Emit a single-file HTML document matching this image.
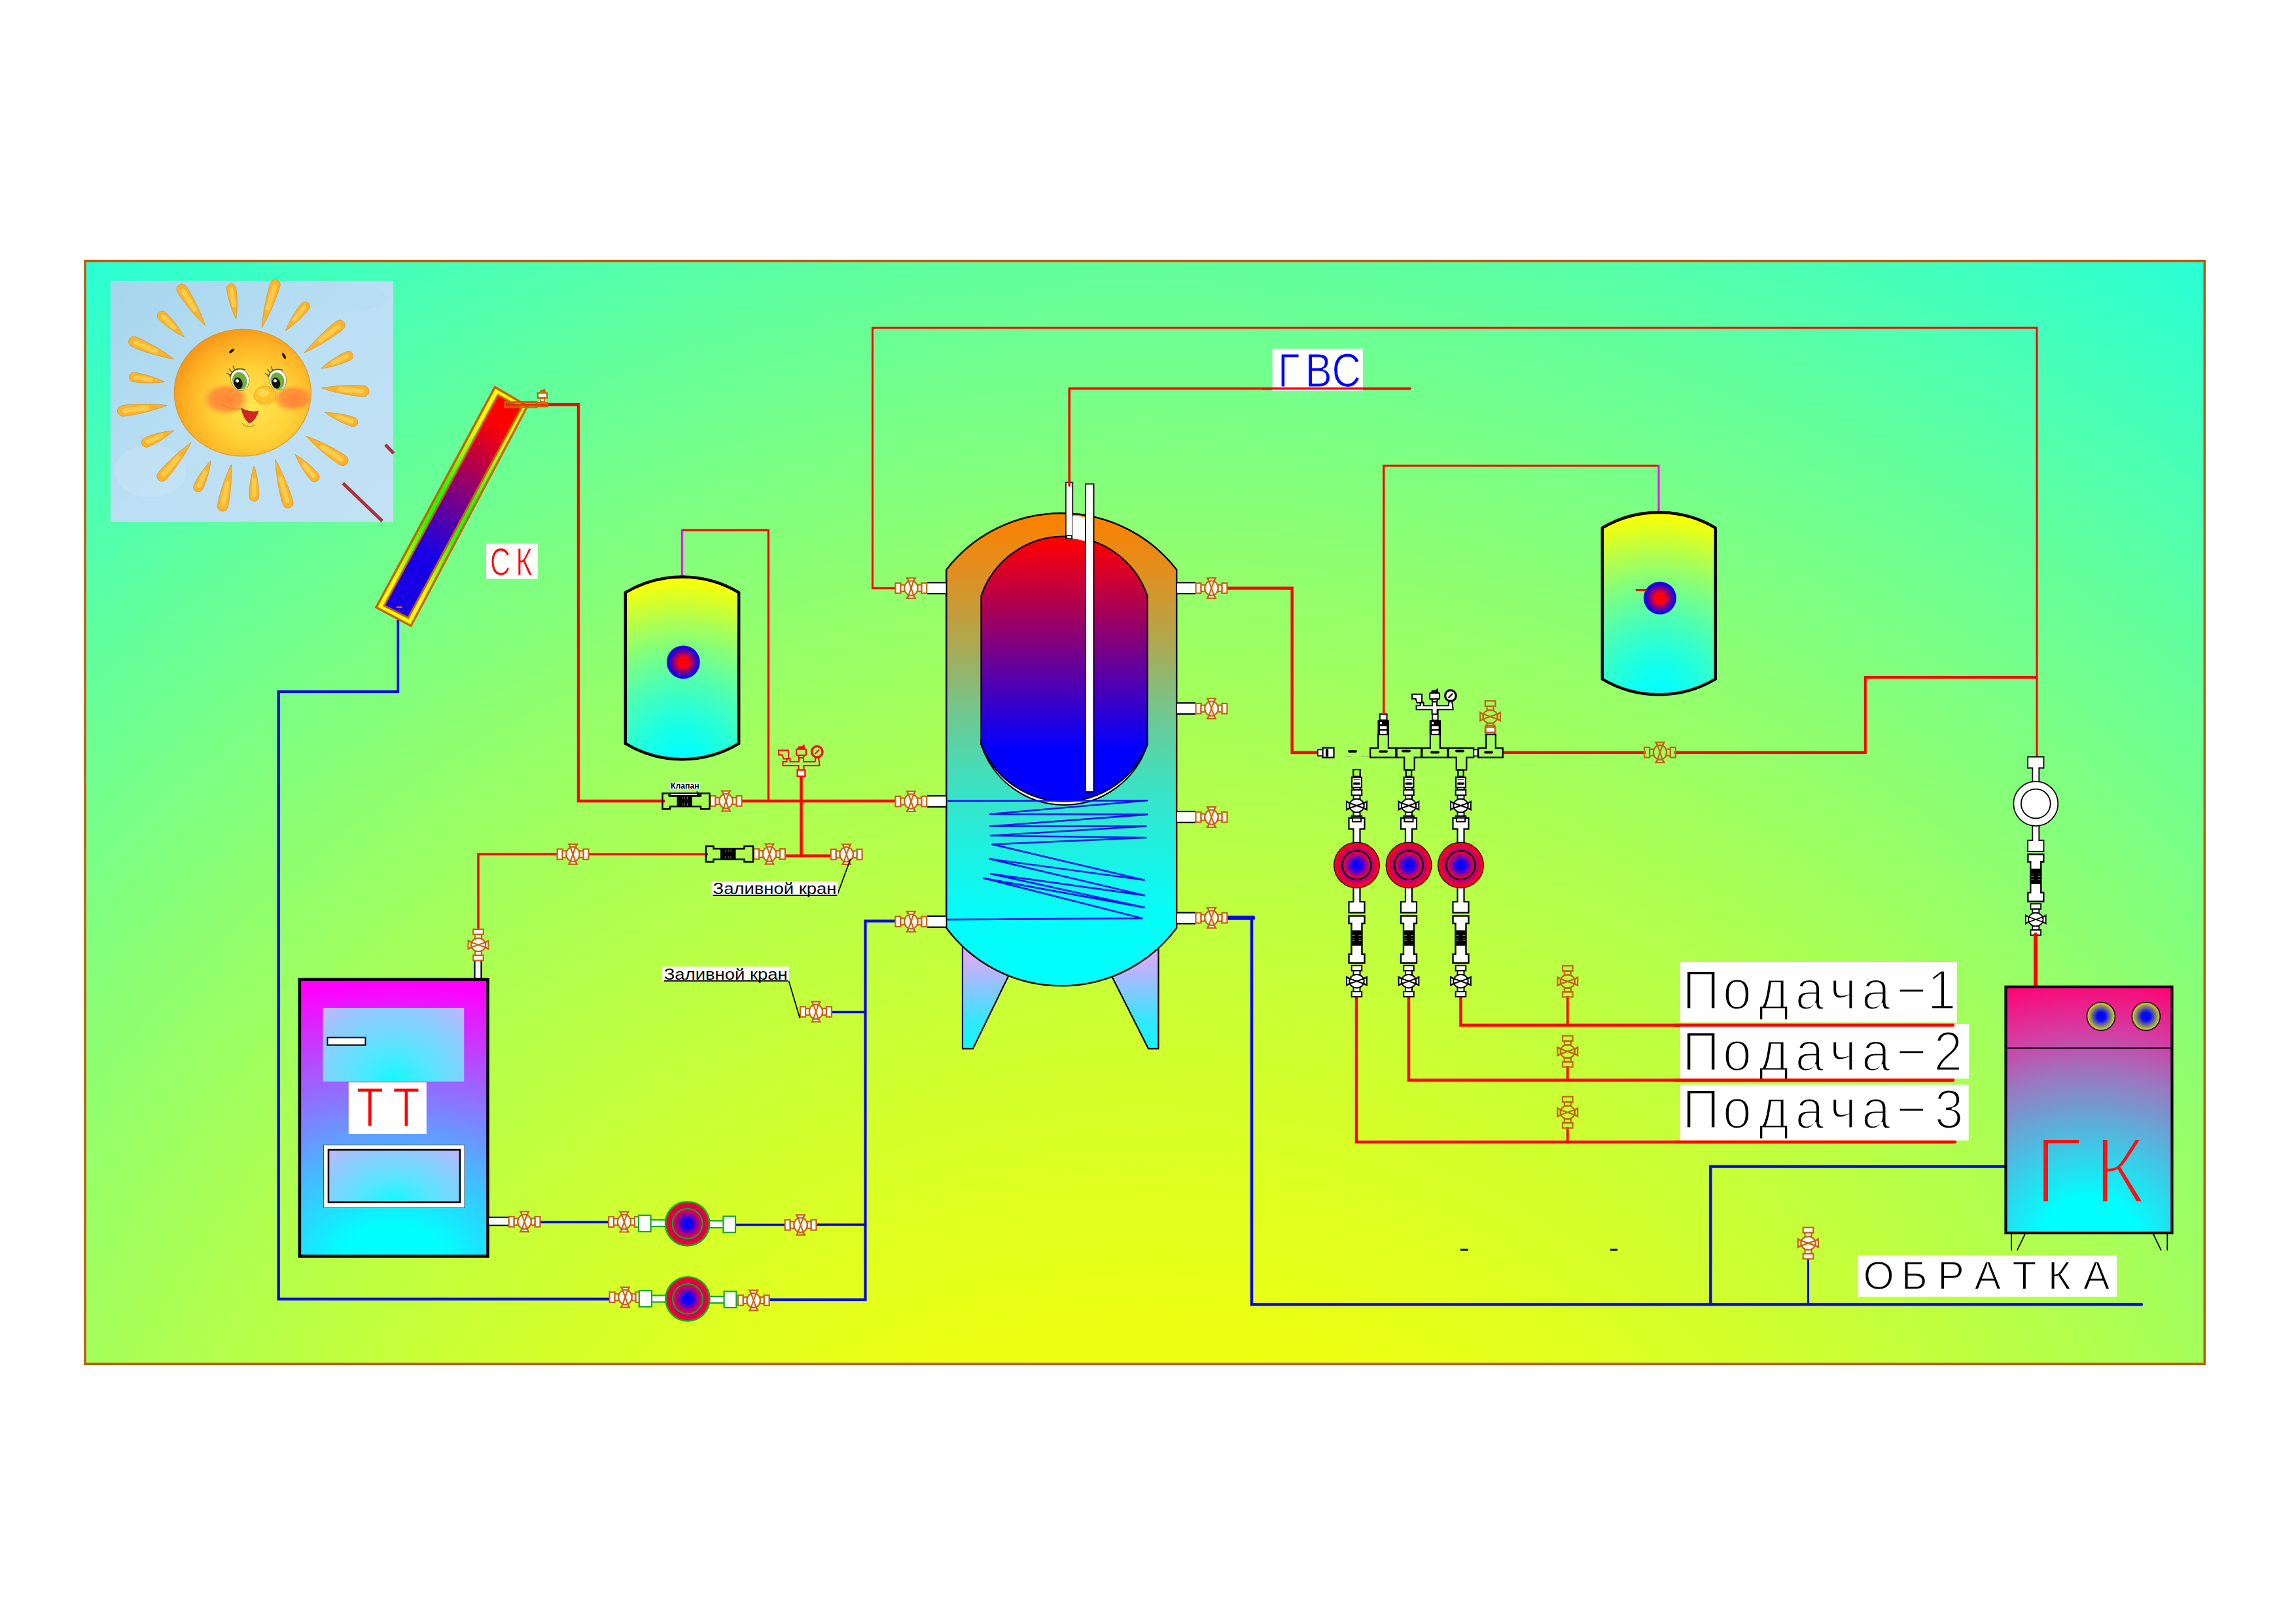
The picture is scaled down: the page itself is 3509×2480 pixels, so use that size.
<!DOCTYPE html>
<html lang="ru"><head><meta charset="utf-8"><title>Схема отопления</title>
<style>html,body{margin:0;padding:0;background:#fff}svg{display:block}</style></head>
<body>
<svg width="3509" height="2480" viewBox="0 0 3509 2480">
<defs>
<radialGradient id="bg" gradientUnits="userSpaceOnUse" cx="1750" cy="2859" r="3050"><stop offset="0.2295" stop-color="rgb(243,255,12)"/><stop offset="0.2623" stop-color="rgb(238,255,17)"/><stop offset="0.2951" stop-color="rgb(232,255,23)"/><stop offset="0.3279" stop-color="rgb(226,255,29)"/><stop offset="0.3607" stop-color="rgb(219,255,36)"/><stop offset="0.3934" stop-color="rgb(212,255,43)"/><stop offset="0.4262" stop-color="rgb(205,255,50)"/><stop offset="0.4590" stop-color="rgb(197,255,58)"/><stop offset="0.4918" stop-color="rgb(189,255,66)"/><stop offset="0.5246" stop-color="rgb(181,255,74)"/><stop offset="0.5574" stop-color="rgb(173,255,82)"/><stop offset="0.5902" stop-color="rgb(164,255,91)"/><stop offset="0.6230" stop-color="rgb(154,255,101)"/><stop offset="0.6557" stop-color="rgb(145,255,110)"/><stop offset="0.6885" stop-color="rgb(135,255,120)"/><stop offset="0.7213" stop-color="rgb(125,255,130)"/><stop offset="0.7541" stop-color="rgb(114,255,141)"/><stop offset="0.7869" stop-color="rgb(104,255,151)"/><stop offset="0.8197" stop-color="rgb(93,255,162)"/><stop offset="0.8525" stop-color="rgb(81,255,174)"/><stop offset="0.8852" stop-color="rgb(70,255,185)"/><stop offset="0.9180" stop-color="rgb(58,255,197)"/><stop offset="0.9508" stop-color="rgb(46,255,209)"/><stop offset="0.9836" stop-color="rgb(33,255,222)"/></radialGradient>
<linearGradient id="sky" x1="0" y1="0" x2="1" y2="1"><stop offset="0" stop-color="#a5d6ee"/><stop offset="0.5" stop-color="#bbdff4"/><stop offset="1" stop-color="#c3e2f5"/></linearGradient>
<radialGradient id="sun" cx="0.58" cy="0.6" r="0.64"><stop offset="0" stop-color="#ffe450"/><stop offset="0.45" stop-color="#ffd238"/><stop offset="0.75" stop-color="#ffb324"/><stop offset="1" stop-color="#f59316"/></radialGradient>
<linearGradient id="ray" x1="0" y1="0" x2="1" y2="0"><stop offset="0" stop-color="#f6a21c"/><stop offset="0.5" stop-color="#ffd045"/><stop offset="1" stop-color="#f3a01a"/></linearGradient>
<radialGradient id="cheek"><stop offset="0" stop-color="#ff8434" stop-opacity="1"/><stop offset="0.65" stop-color="#ff8e3a" stop-opacity="0.9"/><stop offset="1" stop-color="#ffa030" stop-opacity="0"/></radialGradient>
<linearGradient id="colO" gradientUnits="userSpaceOnUse" x1="781" y1="607" x2="602" y2="941"><stop offset="0" stop-color="#ffff00"/><stop offset="0.12" stop-color="#ffff00"/><stop offset="0.45" stop-color="#20ff00"/><stop offset="0.6" stop-color="#20ff00"/><stop offset="0.9" stop-color="#ffff00"/><stop offset="1" stop-color="#ffff00"/></linearGradient>
<linearGradient id="colI" gradientUnits="userSpaceOnUse" x1="778" y1="614" x2="606" y2="935"><stop offset="0" stop-color="#ff0000"/><stop offset="0.1" stop-color="#ff0000"/><stop offset="0.72" stop-color="#1800e6"/><stop offset="1" stop-color="#1800e6"/></linearGradient>
<radialGradient id="yc" cx="0.5" cy="1" r="1" gradientTransform="translate(0.5,1) scale(1.61,1) translate(-0.5,-1)"><stop offset="0.000" stop-color="rgb(0,255,255)"/><stop offset="0.125" stop-color="rgb(14,255,241)"/><stop offset="0.250" stop-color="rgb(37,255,218)"/><stop offset="0.375" stop-color="rgb(65,255,190)"/><stop offset="0.500" stop-color="rgb(97,255,158)"/><stop offset="0.625" stop-color="rgb(132,255,123)"/><stop offset="0.750" stop-color="rgb(170,255,85)"/><stop offset="0.875" stop-color="rgb(212,255,43)"/><stop offset="1.000" stop-color="rgb(255,255,0)"/></radialGradient>
<radialGradient id="rb"><stop offset="0" stop-color="#ff0000"/><stop offset="0.3" stop-color="#ff0010"/><stop offset="0.85" stop-color="#2000e0"/><stop offset="1" stop-color="#1010e0"/></radialGradient>
<linearGradient id="tankO" gradientUnits="userSpaceOnUse" x1="0" y1="783" x2="0" y2="1507"><stop offset="0" stop-color="rgb(255,128,0)"/><stop offset="0.127" stop-color="rgb(224,143,31)"/><stop offset="0.271" stop-color="rgb(176,167,79)"/><stop offset="0.416" stop-color="rgb(115,198,140)"/><stop offset="0.561" stop-color="rgb(65,223,190)"/><stop offset="0.706" stop-color="rgb(31,240,224)"/><stop offset="0.849" stop-color="rgb(5,252,250)"/><stop offset="1" stop-color="rgb(0,255,255)"/></linearGradient>
<linearGradient id="tankI" gradientUnits="userSpaceOnUse" x1="0" y1="819" x2="0" y2="1231"><stop offset="0" stop-color="#ff0000"/><stop offset="0.01" stop-color="#ff0000"/><stop offset="0.79" stop-color="#0000ff"/><stop offset="1" stop-color="#0000ff"/></linearGradient>
<linearGradient id="leg" x1="0" y1="0" x2="0" y2="1"><stop offset="0" stop-color="#f0a8f0"/><stop offset="0.3" stop-color="#b0b8ff"/><stop offset="0.75" stop-color="#30e8ff"/><stop offset="1" stop-color="#10f8ff"/></linearGradient>
<radialGradient id="tt" gradientUnits="userSpaceOnUse" cx="601" cy="1930" r="440" gradientTransform="translate(601,1930) scale(1.4,1) translate(-601,-1930)"><stop offset="0" stop-color="#00ffff"/><stop offset="0.13" stop-color="#00ffff"/><stop offset="0.97" stop-color="#ff00ff"/><stop offset="1" stop-color="#ff00ff"/></radialGradient>
<radialGradient id="ttp" cx="0.5" cy="1" r="1.4" gradientTransform="translate(0.5,1) scale(0.6,1) translate(-0.5,-1)"><stop offset="0" stop-color="#14f8ff"/><stop offset="0.35" stop-color="#5ce4ff"/><stop offset="0.72" stop-color="#96c8ff"/><stop offset="1" stop-color="#d2aef8"/></radialGradient>
<radialGradient id="gk" gradientUnits="userSpaceOnUse" cx="3192" cy="1890" r="400" gradientTransform="translate(3192,1890) scale(1.2,1) translate(-3192,-1890)"><stop offset="0" stop-color="#00ffff"/><stop offset="0.15" stop-color="#00ffff"/><stop offset="0.62" stop-color="#9a78c0"/><stop offset="0.8" stop-color="#d838a0"/><stop offset="1" stop-color="#ff0070"/></radialGradient>
<radialGradient id="knob"><stop offset="0" stop-color="#0000ff"/><stop offset="0.3" stop-color="#0808f8"/><stop offset="0.8" stop-color="#a0a050"/><stop offset="1" stop-color="#f0e010"/></radialGradient>
<radialGradient id="pumpO"><stop offset="0" stop-color="#7000b0"/><stop offset="0.58" stop-color="#8000a8"/><stop offset="0.78" stop-color="#d40054"/><stop offset="0.95" stop-color="#ff0018"/><stop offset="1" stop-color="#ff0018"/></radialGradient>
<radialGradient id="pumpI"><stop offset="0" stop-color="#0000ff"/><stop offset="0.32" stop-color="#1400f4"/><stop offset="0.68" stop-color="#a00090"/><stop offset="0.95" stop-color="#f20030"/><stop offset="1" stop-color="#f20030"/></radialGradient>
<radialGradient id="pump"><stop offset="0" stop-color="#0000ff"/><stop offset="0.18" stop-color="#1000f8"/><stop offset="0.55" stop-color="#b000a0"/><stop offset="0.75" stop-color="#f00040"/><stop offset="1" stop-color="#ff0020"/></radialGradient>
<clipPath id="cp1"><rect x="2568" y="1470" width="423" height="92.4"/></clipPath>
<clipPath id="cp2"><rect x="2568" y="1569" width="441" height="79.2"/></clipPath>
<clipPath id="cp3"><rect x="2568" y="1657.4" width="441" height="85.2"/></clipPath>
<clipPath id="disc"><ellipse cx="370.8" cy="600" rx="104" ry="96.5"/></clipPath>
<radialGradient id="gk2" gradientUnits="userSpaceOnUse" cx="3192" cy="1890" r="400" gradientTransform="scale(1.06383,1) translate(3192,1890) scale(1.2,1) translate(-3192,-1890)"><stop offset="0" stop-color="#00ffff"/><stop offset="0.15" stop-color="#00ffff"/><stop offset="0.62" stop-color="#9a78c0"/><stop offset="0.8" stop-color="#d838a0"/><stop offset="1" stop-color="#ff0070"/></radialGradient>
</defs>
<rect x="0" y="0" width="3509" height="2480" fill="#fff"/>
<rect x="130" y="398.7" width="3239.3" height="1685.5" fill="url(#bg)" stroke="#b85c0c" stroke-width="3.6"/>
<g>
<rect x="169" y="429" width="432" height="368.3" fill="url(#sky)"/>
<ellipse cx="520" cy="455" rx="70" ry="22" fill="#b4dcf0" opacity="0.6"/>
<ellipse cx="230" cy="720" rx="55" ry="40" fill="#c6e4f6" opacity="0.6"/>
<path d="M313.8,498.1 C296.2,481.5 277.8,457.5 271.1,445.9 A7.9,7.9 0 0 1 284.4,437.4 C292.2,448.3 306.2,475.1 313.8,498.1 Z" fill="#fab42a" stroke="#d89a30" stroke-width="0.9"/>
<path d="M279.6,444.5 L297.6,472.7" stroke="#ffd458" stroke-width="7.1" stroke-linecap="round" opacity="0.75"/>
<path d="M360.7,487.3 C352.9,471.7 347.4,451.0 346.5,441.5 A7.0,7.0 0 0 1 360.4,439.4 C362.4,448.6 363.4,470.1 360.7,487.3 Z" fill="#fab42a" stroke="#d89a30" stroke-width="0.9"/>
<path d="M353.8,442.8 L357.4,466.2" stroke="#ffd458" stroke-width="6.3" stroke-linecap="round" opacity="0.75"/>
<path d="M400.3,500.5 C402.0,475.7 408.8,445.2 413.5,432.2 A7.6,7.6 0 0 1 428.0,436.7 C424.5,450.1 412.9,479.1 400.3,500.5 Z" fill="#fab42a" stroke="#d89a30" stroke-width="0.9"/>
<path d="M419.7,437.7 L409.5,470.8" stroke="#ffd458" stroke-width="6.9" stroke-linecap="round" opacity="0.75"/>
<path d="M436.4,505.3 C442.8,489.0 454.5,470.7 460.9,463.6 A7.0,7.0 0 0 1 471.9,472.5 C466.3,480.3 451.0,495.6 436.4,505.3 Z" fill="#fab42a" stroke="#d89a30" stroke-width="0.9"/>
<path d="M464.9,469.9 L449.9,488.6" stroke="#ffd458" stroke-width="6.3" stroke-linecap="round" opacity="0.75"/>
<path d="M465.2,539.0 C480.5,519.6 503.2,498.6 514.4,490.7 A7.9,7.9 0 0 1 524.2,503.2 C513.7,512.1 487.8,528.9 465.2,539.0 Z" fill="#fab42a" stroke="#d89a30" stroke-width="0.9"/>
<path d="M516.6,499.0 L489.6,520.0" stroke="#ffd458" stroke-width="7.1" stroke-linecap="round" opacity="0.75"/>
<path d="M490.5,563.0 C503.0,551.5 520.9,540.7 529.6,537.4 A7.0,7.0 0 0 1 535.4,550.2 C527.3,554.5 507.4,561.1 490.5,563.0 Z" fill="#fab42a" stroke="#d89a30" stroke-width="0.9"/>
<path d="M530.4,544.7 L509.4,554.3" stroke="#ffd458" stroke-width="6.3" stroke-linecap="round" opacity="0.75"/>
<path d="M491.7,593.0 C514.8,588.6 544.2,588.0 557.2,589.7 A8.2,8.2 0 0 1 555.9,606.0 C542.9,605.7 513.9,600.9 491.7,593.0 Z" fill="#fab42a" stroke="#d89a30" stroke-width="0.9"/>
<path d="M553.3,597.6 L520.9,595.2" stroke="#ffd458" stroke-width="7.4" stroke-linecap="round" opacity="0.75"/>
<path d="M496.5,630.3 C513.3,630.3 533.5,634.6 542.0,638.0 A7.0,7.0 0 0 1 537.5,651.4 C528.7,649.0 509.9,640.3 496.5,630.3 Z" fill="#fab42a" stroke="#d89a30" stroke-width="0.9"/>
<path d="M537.6,644.0 L515.9,636.8" stroke="#ffd458" stroke-width="6.3" stroke-linecap="round" opacity="0.75"/>
<path d="M467.6,666.3 C490.8,674.2 517.7,688.7 528.6,696.7 A8.2,8.2 0 0 1 519.6,710.4 C507.9,703.5 484.0,684.5 467.6,666.3 Z" fill="#fab42a" stroke="#d89a30" stroke-width="0.9"/>
<path d="M521.3,701.7 L493.0,683.1" stroke="#ffd458" stroke-width="7.4" stroke-linecap="round" opacity="0.75"/>
<path d="M450.8,694.0 C465.5,702.6 480.8,716.7 486.4,724.0 A7.3,7.3 0 0 1 475.3,733.6 C468.8,727.0 457.2,709.8 450.8,694.0 Z" fill="#fab42a" stroke="#d89a30" stroke-width="0.9"/>
<path d="M479.3,727.1 L464.3,709.7" stroke="#ffd458" stroke-width="6.6" stroke-linecap="round" opacity="0.75"/>
<path d="M420.8,702.4 C433.2,723.9 444.4,752.9 447.6,766.3 A7.9,7.9 0 0 1 432.4,770.7 C427.9,757.7 421.8,727.2 420.8,702.4 Z" fill="#fab42a" stroke="#d89a30" stroke-width="0.9"/>
<path d="M439.0,765.2 L429.4,732.1" stroke="#ffd458" stroke-width="7.1" stroke-linecap="round" opacity="0.75"/>
<path d="M388.3,712.0 C393.8,728.4 396.2,749.5 395.6,758.9 A7.3,7.3 0 0 1 381.0,758.9 C380.4,749.5 382.8,728.4 388.3,712.0 Z" fill="#fab42a" stroke="#d89a30" stroke-width="0.9"/>
<path d="M388.3,756.5 L388.3,733.1" stroke="#ffd458" stroke-width="6.6" stroke-linecap="round" opacity="0.75"/>
<path d="M353.5,709.6 C354.7,733.1 351.3,762.3 348.0,774.9 A7.9,7.9 0 0 1 332.5,771.7 C334.5,758.8 343.0,730.7 353.5,709.6 Z" fill="#fab42a" stroke="#d89a30" stroke-width="0.9"/>
<path d="M340.9,770.1 L347.5,738.3" stroke="#ffd458" stroke-width="7.1" stroke-linecap="round" opacity="0.75"/>
<path d="M322.2,703.6 C320.5,720.2 314.0,739.6 309.6,747.6 A7.3,7.3 0 0 1 296.4,741.3 C299.7,732.9 310.5,715.6 322.2,703.6 Z" fill="#fab42a" stroke="#d89a30" stroke-width="0.9"/>
<path d="M304.0,742.4 L313.6,722.0" stroke="#ffd458" stroke-width="6.6" stroke-linecap="round" opacity="0.75"/>
<path d="M292.2,676.0 C281.1,697.9 263.1,722.9 253.7,732.8 A7.9,7.9 0 0 1 241.7,722.5 C250.1,711.7 272.1,690.2 292.2,676.0 Z" fill="#fab42a" stroke="#d89a30" stroke-width="0.9"/>
<path d="M249.9,725.0 L272.2,699.2" stroke="#ffd458" stroke-width="7.1" stroke-linecap="round" opacity="0.75"/>
<path d="M265.7,657.9 C253.2,669.3 235.2,679.6 226.6,682.7 A7.3,7.3 0 0 1 220.8,669.2 C229.0,665.1 248.9,659.2 265.7,657.9 Z" fill="#fab42a" stroke="#d89a30" stroke-width="0.9"/>
<path d="M225.8,675.1 L246.8,666.0" stroke="#ffd458" stroke-width="6.6" stroke-linecap="round" opacity="0.75"/>
<path d="M254.9,619.5 C232.1,628.5 202.2,635.0 188.7,636.0 A8.2,8.2 0 0 1 186.6,619.7 C200.0,617.4 230.6,616.3 254.9,619.5 Z" fill="#fab42a" stroke="#d89a30" stroke-width="0.9"/>
<path d="M191.0,627.5 L224.6,623.3" stroke="#ffd458" stroke-width="7.4" stroke-linecap="round" opacity="0.75"/>
<path d="M251.3,583.4 C234.1,586.1 212.7,585.2 203.4,583.2 A7.0,7.0 0 0 1 205.5,569.3 C215.0,570.1 235.7,575.7 251.3,583.4 Z" fill="#fab42a" stroke="#d89a30" stroke-width="0.9"/>
<path d="M206.8,576.6 L230.2,580.2" stroke="#ffd458" stroke-width="6.3" stroke-linecap="round" opacity="0.75"/>
<path d="M265.7,548.6 C241.9,544.8 213.3,535.3 201.3,529.4 A7.9,7.9 0 0 1 207.6,514.9 C220.1,519.6 246.6,533.9 265.7,548.6 Z" fill="#fab42a" stroke="#d89a30" stroke-width="0.9"/>
<path d="M207.5,523.5 L238.2,536.7" stroke="#ffd458" stroke-width="7.1" stroke-linecap="round" opacity="0.75"/>
<path d="M281.4,514.9 C265.8,507.5 249.0,494.7 242.6,487.8 A7.3,7.3 0 0 1 252.8,477.2 C259.9,483.3 273.4,499.6 281.4,514.9 Z" fill="#fab42a" stroke="#d89a30" stroke-width="0.9"/>
<path d="M249.4,484.1 L266.2,500.3" stroke="#ffd458" stroke-width="6.6" stroke-linecap="round" opacity="0.75"/>
<ellipse cx="370.8" cy="600" rx="104.5" ry="97" fill="url(#sun)" stroke="#d9962a" stroke-width="1.2"/>
<g clip-path="url(#disc)">
<ellipse cx="345.1" cy="609.9" rx="36" ry="25" fill="url(#cheek)"/>
<ellipse cx="448.4" cy="608.7" rx="32" ry="21" fill="url(#cheek)"/>
</g>
<g transform="translate(366.7,579.8) rotate(-15) scale(1.0)"><ellipse cx="0" cy="0" rx="14" ry="17" fill="#fff" stroke="#8a6a20" stroke-width="0.8"/><ellipse cx="-1" cy="2" rx="11" ry="13.5" fill="#6fae3a"/><ellipse cx="-4" cy="5" rx="6.5" ry="9" fill="#111"/><circle cx="-4.5" cy="1" r="2.6" fill="#fff"/><path d="M-14,-8 Q-4,-22 12,-12" fill="none" stroke="#5a4a10" stroke-width="1.6"/><path d="M-13,-10 l-4,-5 M-9,-14 l-3,-6 M-4,-17 l-1,-6" stroke="#4a3a10" stroke-width="1.2" fill="none"/></g>
<g transform="translate(424.4,579.8) rotate(-15) scale(0.95)"><ellipse cx="0" cy="0" rx="14" ry="17" fill="#fff" stroke="#8a6a20" stroke-width="0.8"/><ellipse cx="-1" cy="2" rx="11" ry="13.5" fill="#6fae3a"/><ellipse cx="-4" cy="5" rx="6.5" ry="9" fill="#111"/><circle cx="-4.5" cy="1" r="2.6" fill="#fff"/><path d="M-14,-8 Q-4,-22 12,-12" fill="none" stroke="#5a4a10" stroke-width="1.6"/><path d="M-13,-10 l-4,-5 M-9,-14 l-3,-6 M-4,-17 l-1,-6" stroke="#4a3a10" stroke-width="1.2" fill="none"/></g>
<ellipse cx="354.2" cy="536.1" rx="5" ry="2" transform="rotate(-40 354.2 536.1)" fill="#2a1a00"/>
<ellipse cx="434.0" cy="543.8" rx="5" ry="2" transform="rotate(60 434.0 543.8)" fill="#2a1a00"/>
<ellipse cx="405.1" cy="603.9" rx="17" ry="14" fill="#ffc12c" stroke="#e39a20" stroke-width="0.8"/>
<ellipse cx="402.1" cy="599.9" rx="9" ry="6" fill="#ffdc55" opacity="0.8"/>
<path d="M368.9,623.7 Q379.9,630.7 394.9,628.7 Q387.9,646.7 379.9,645.7 Q371.9,638.7 368.9,623.7Z" fill="#d42424" stroke="#8a1a10" stroke-width="0.8"/>
<path d="M339.9,618.7 Q359.9,628.7 368.9,623.7" fill="none" stroke="#d88a20" stroke-width="1.2"/>
<path d="M369.9,646.7 Q379.9,656.7 389.9,648.7" fill="none" stroke="#c8861c" stroke-width="1.2"/>
<path d="M524.1,738.4 L584.2,796.1" fill="none" stroke="#a8323c" stroke-width="5" />
<path d="M589.0,679.6 L601.7,692.8" fill="none" stroke="#a8323c" stroke-width="5" />
</g>
<path d="M836.0,618.2 L884.0,618.2 L884.0,1224.0 L1016.0,1224.0" fill="none" stroke="#ff0000" stroke-width="4.4" />
<path d="M1130.0,1224.0 L1372.0,1224.0" fill="none" stroke="#ff0000" stroke-width="4.6" />
<path d="M1042.3,810.0 L1174.4,810.0 L1174.4,1224.0" fill="none" stroke="#ff0000" stroke-width="3.2" />
<path d="M1042.3,882.0 L1042.3,808.4" fill="none" stroke="#ff00ff" stroke-width="3" />
<path d="M1224.5,1184.0 L1224.5,1308.0" fill="none" stroke="#ff0000" stroke-width="4.5" />
<path d="M731.0,1424.0 L731.0,1305.3 L855.0,1305.3" fill="none" stroke="#ff0000" stroke-width="3.4" />
<path d="M897.0,1305.3 L1082.0,1305.3" fill="none" stroke="#ff0000" stroke-width="3.2" />
<path d="M1198.0,1307.8 L1273.0,1307.8" fill="none" stroke="#ff0000" stroke-width="4.6" />
<path d="M1371.0,898.7 L1333.5,898.7 L1333.5,501.0 L3113.0,501.0 L3113.0,1158.0" fill="none" stroke="#ff0000" stroke-width="3" />
<path d="M1634.3,741.5 L1634.3,593.7 L2155.0,593.7" fill="none" stroke="#ff0000" stroke-width="3.5" stroke-linecap="round"/>
<path d="M1874.0,898.7 L1974.7,898.7 L1974.7,1150.0 L2016.0,1150.0" fill="none" stroke="#ff0000" stroke-width="4.4" />
<path d="M2114.8,1092.0 L2114.8,711.5 L2535.0,711.5" fill="none" stroke="#ff0000" stroke-width="3.2" />
<path d="M2535.0,710.0 L2535.0,783.0" fill="none" stroke="#ff00ff" stroke-width="3" />
<path d="M2296.0,1150.0 L2515.0,1150.0" fill="none" stroke="#ff0000" stroke-width="4" />
<path d="M2559.0,1150.0 L2850.8,1150.0 L2850.8,1035.0 L3113.0,1035.0" fill="none" stroke="#ff0000" stroke-width="4" />
<path d="M2073.0,1522.0 L2073.0,1745.0 L2988.0,1745.0" fill="none" stroke="#ff0000" stroke-width="4.5" stroke-linecap="round"/>
<path d="M2153.0,1522.0 L2153.0,1650.4 L2985.0,1650.4" fill="none" stroke="#ff0000" stroke-width="4.5" stroke-linecap="round"/>
<path d="M2232.5,1522.0 L2232.5,1566.5 L2985.0,1566.5" fill="none" stroke="#ff0000" stroke-width="4.5" stroke-linecap="round"/>
<path d="M2395.8,1522.0 L2395.8,1566.5" fill="none" stroke="#ff0000" stroke-width="3.6" />
<path d="M2395.8,1629.0 L2395.8,1650.4" fill="none" stroke="#ff0000" stroke-width="3.6" />
<path d="M2395.8,1722.0 L2395.8,1745.0" fill="none" stroke="#ff0000" stroke-width="3.6" />
<path d="M3111.0,1427.0 L3111.0,1508.0" fill="none" stroke="#ff0000" stroke-width="6" stroke-linecap="round"/>
<path d="M608.3,938.0 L608.3,1056.8" fill="none" stroke="#0808e6" stroke-width="3.7" />
<path d="M610.0,1056.8 L425.7,1056.8 L425.7,1985.0 L932.0,1985.0" fill="none" stroke="#0808e6" stroke-width="4.3" />
<path d="M1172.0,1986.0 L1322.5,1986.0 L1322.5,1407.3 L1371.0,1407.3" fill="none" stroke="#0808e6" stroke-width="4.2" />
<path d="M824.0,1867.5 L932.0,1867.5" fill="none" stroke="#0808e6" stroke-width="3.3" />
<path d="M1124.0,1871.5 L1202.0,1871.5" fill="none" stroke="#0808e6" stroke-width="3.3" />
<path d="M1245.0,1871.3 L1322.5,1871.3" fill="none" stroke="#0808e6" stroke-width="3.6" />
<path d="M1269.0,1546.5 L1322.5,1546.5" fill="none" stroke="#0808e6" stroke-width="3.6" />
<path d="M1874.0,1402.6 L1915.0,1402.6" fill="none" stroke="#0808e6" stroke-width="6.5" stroke-linecap="round"/>
<path d="M1913.0,1402.6 L1913.0,1993.2 L3273.0,1993.2" fill="none" stroke="#0808e6" stroke-width="4.4" stroke-linecap="round"/>
<path d="M3065.0,1782.5 L2614.2,1782.5 L2614.2,1993.2" fill="none" stroke="#0808e6" stroke-width="4.4" stroke-linecap="round"/>
<path d="M2763.5,1922.0 L2763.5,1993.0" fill="none" stroke="#0808e6" stroke-width="3" />
<polygon points="756.5,591.5 806,620.5 628,956.2 575,928" fill="url(#colO)" stroke="#c86400" stroke-width="3.5" stroke-linejoin="miter"/>
<polygon points="761,603.5 796.5,623.5 624,944 587,925.5" fill="url(#colI)" stroke="#c86400" stroke-width="3" stroke-linejoin="miter"/>
<rect x="606" y="926.5" width="9" height="2.6" fill="#c86400"/>
<rect x="772" y="614.5" width="48" height="7.5" fill="none" stroke="#c86400" stroke-width="3"/>
<path d="M775.0,618.3 L838.0,618.3" fill="none" stroke="#f03000" stroke-width="3.5" />
<rect x="821" y="615.2" width="16" height="6" fill="none" stroke="#c86400" stroke-width="2.2"/>
<rect x="822" y="600.5" width="14" height="7.6" fill="#fffaf0" stroke="#c86400" stroke-width="2.4"/>
<path d="M824.5,599.5 L826,596.5 L831,595 L833,593.6 L834,599.5Z" fill="#c86400"/>
<rect x="826.5" y="609" width="5.5" height="5" fill="#fffaf0" stroke="#c86400" stroke-width="1.6"/>
<path d="M955.8,1136.2 L955.8,905.4 A169.2,169.2 0 0 1 1129.2,905.4 L1129.2,1136.2 A168.0,168.0 0 0 1 955.8,1136.2 Z" fill="url(#yc)" stroke="#000" stroke-width="4.4" stroke-linejoin="miter"/>
<circle cx="1044.3" cy="1011.8" r="25.4" fill="url(#rb)"/>
<path d="M2448.8,1037.6 L2448.8,806.6 A170.3,170.3 0 0 1 2621.8,806.6 L2621.8,1037.6 A169.7,169.7 0 0 1 2448.8,1037.6 Z" fill="url(#yc)" stroke="#000" stroke-width="4.4" stroke-linejoin="miter"/>
<circle cx="2536.9" cy="913.8" r="25" fill="url(#rb)"/>
<path d="M2499.8,901.5 L2516.6,901.5" fill="none" stroke="#ff0000" stroke-width="3" />
<path d="M1471,1440 L1471,1602.3 L1487,1602.3 L1541,1492 L1541,1440Z" fill="url(#leg)" stroke="#000" stroke-width="2.2"/>
<path d="M1770.5,1440 L1770.5,1602.3 L1755,1602.3 L1700,1493.5 L1700,1440Z" fill="url(#leg)" stroke="#000" stroke-width="2.2"/>
<path d="M1446.4,1418 L1446.4,870.4 A222.6,222.6 0 0 1 1798.2,870.4 L1798.2,1418 A219.2,219.2 0 0 1 1446.4,1418 Z" fill="url(#tankO)" stroke="#000" stroke-width="2.4"/>
<path d="M1499.5,1137.5 A133.5,133.5 0 0 0 1753.6,1137.5 L1753.6,1130 L1499.5,1130Z" fill="#fff" stroke="#000" stroke-width="2"/>
<path d="M1499.5,1137.5 L1499.5,910.4 A134.3,134.3 0 0 1 1753.6,910.4 L1753.6,1137.5 A136.3,136.3 0 0 1 1499.5,1137.5 Z" fill="url(#tankI)" stroke="#000" stroke-width="2.2"/>
<rect x="1629" y="737" width="10.4" height="86" fill="#fff" stroke="#000" stroke-width="1.6"/>
<rect x="1630.6" y="818.5" width="7.2" height="4.5" fill="#fff" stroke="#000" stroke-width="1.2"/>
<path d="M1639.4,788 Q1649,788.5 1659,790.5 L1659,827 Q1649,824 1639.4,823Z" fill="#fff"/>
<rect x="1659" y="739.5" width="12.6" height="470.5" fill="#fff" stroke="#000" stroke-width="1.8"/>
<path d="M1634.3,737.0 L1634.3,742.0" fill="none" stroke="#ff0000" stroke-width="3.5" stroke-linecap="round"/>
<path d="M1447.9,1223.9 L1753.5,1223.3 L1513.2,1244.0 L1753.5,1244.6 L1513.2,1262.5 L1751.4,1262.5 L1514.1,1276.9 L1751.4,1280.0 L1516.6,1290.2 L1748.9,1344.7 L1512.6,1312.4 L1748.9,1368.1 L1514.1,1335.2 L1748.9,1386.6 L1503.3,1341.9 L1745.8,1403.3 L1447.9,1405.1" fill="none" stroke="#1414f0" stroke-width="2.6" stroke-linejoin="round"/>
<rect x="1417" y="890.3" width="28.5" height="16.8" fill="#fff"/>
<path d="M1417.0,890.3 L1445.5,890.3" fill="none" stroke="#000" stroke-width="2.2" />
<path d="M1417.0,907.1 L1445.5,907.1" fill="none" stroke="#000" stroke-width="2.2" />
<rect x="1417" y="1216.1" width="28.5" height="16.8" fill="#fff"/>
<path d="M1417.0,1216.1 L1445.5,1216.1" fill="none" stroke="#000" stroke-width="2.2" />
<path d="M1417.0,1232.9 L1445.5,1232.9" fill="none" stroke="#000" stroke-width="2.2" />
<rect x="1417" y="1399.9" width="28.5" height="16.8" fill="#fff"/>
<path d="M1417.0,1399.9 L1445.5,1399.9" fill="none" stroke="#000" stroke-width="2.2" />
<path d="M1417.0,1416.7 L1445.5,1416.7" fill="none" stroke="#000" stroke-width="2.2" />
<rect x="1799" y="890.3" width="28.0" height="16.8" fill="#fff"/>
<path d="M1799.0,890.3 L1827.0,890.3" fill="none" stroke="#000" stroke-width="2.2" />
<path d="M1799.0,907.1 L1827.0,907.1" fill="none" stroke="#000" stroke-width="2.2" />
<rect x="1799" y="1074.2" width="28.0" height="16.8" fill="#fff"/>
<path d="M1799.0,1074.2 L1827.0,1074.2" fill="none" stroke="#000" stroke-width="2.2" />
<path d="M1799.0,1091.0 L1827.0,1091.0" fill="none" stroke="#000" stroke-width="2.2" />
<rect x="1799" y="1240.0" width="28.0" height="16.8" fill="#fff"/>
<path d="M1799.0,1240.0 L1827.0,1240.0" fill="none" stroke="#000" stroke-width="2.2" />
<path d="M1799.0,1256.8 L1827.0,1256.8" fill="none" stroke="#000" stroke-width="2.2" />
<rect x="1799" y="1394.6" width="28.0" height="16.8" fill="#fff"/>
<path d="M1799.0,1394.6 L1827.0,1394.6" fill="none" stroke="#000" stroke-width="2.2" />
<path d="M1799.0,1411.4 L1827.0,1411.4" fill="none" stroke="#000" stroke-width="2.2" />
<rect x="731" y="1462" width="0" height="0"/>
<rect x="725.5" y="1462.4" width="10" height="33" fill="#fff" stroke="#000" stroke-width="2.2"/>
<rect x="457.9" y="1496.5" width="287.6" height="423" fill="url(#tt)" stroke="#000" stroke-width="4.6"/>
<rect x="493.6" y="1540" width="215.6" height="112.6" fill="url(#ttp)"/>
<rect x="500.5" y="1585.4" width="58" height="11.4" fill="#fff" stroke="#000" stroke-width="2"/>
<rect x="494.5" y="1749.7" width="215.5" height="95.8" fill="#fff" stroke="#333" stroke-width="0.8"/>
<rect x="502" y="1757" width="201" height="80" fill="url(#ttp)" stroke="#000" stroke-width="2.6"/>
<rect x="532.8" y="1653.8" width="119" height="79.2" fill="#fff"/>
<rect x="746.5" y="1860" width="32" height="12.4" fill="#fff" stroke="#000" stroke-width="1.8"/>
<rect x="3065.5" y="1508" width="254" height="376" fill="url(#gk)" stroke="#000" stroke-width="4.2"/>
<path d="M3066.0,1601.5 L3319.0,1601.5" fill="none" stroke="#000" stroke-width="2" />
<circle cx="3211" cy="1553" r="21.5" fill="url(#knob)" stroke="#000" stroke-width="1.6"/>
<circle cx="3279.8" cy="1553" r="21.5" fill="url(#knob)" stroke="#000" stroke-width="1.6"/>
<path d="M3074.0,1886.0 L3074.0,1910.7" fill="none" stroke="#000" stroke-width="1.8" />
<path d="M3094.8,1886.0 L3082.8,1910.7" fill="none" stroke="#000" stroke-width="1.8" />
<path d="M3291.0,1886.0 L3303.0,1910.7" fill="none" stroke="#000" stroke-width="1.8" />
<path d="M3312.3,1886.0 L3312.3,1910.7" fill="none" stroke="#000" stroke-width="1.8" />
<g transform="translate(1109.6,1224.0) rotate(0) scale(1.0)" fill="#fffaf0" stroke="#c46412" stroke-width="2.2" stroke-linejoin="miter"><rect x="-23.9" y="-7.8" width="8" height="15.6"/><rect x="15.9" y="-7.8" width="8" height="15.6"/><rect x="-15.9" y="-5" width="6" height="10"/><rect x="9.9" y="-5" width="6" height="10"/><path d="M-6.4,-15.4 L6.4,-15.4 L3.8,-10.6 L-3.8,-10.6 Z"/><path d="M-6.4,15.4 L6.4,15.4 L3.8,10.6 L-3.8,10.6 Z"/><ellipse cx="0" cy="0" rx="10.2" ry="11.2"/><path d="M-5,-14 L5,14 M5,-14 L-5,14" fill="none"/></g>
<g transform="translate(1392.4,898.7) rotate(0) scale(1.0)" fill="#fffaf0" stroke="#c46412" stroke-width="2.2" stroke-linejoin="miter"><rect x="-23.9" y="-7.8" width="8" height="15.6"/><rect x="15.9" y="-7.8" width="8" height="15.6"/><rect x="-15.9" y="-5" width="6" height="10"/><rect x="9.9" y="-5" width="6" height="10"/><path d="M-6.4,-15.4 L6.4,-15.4 L3.8,-10.6 L-3.8,-10.6 Z"/><path d="M-6.4,15.4 L6.4,15.4 L3.8,10.6 L-3.8,10.6 Z"/><ellipse cx="0" cy="0" rx="10.2" ry="11.2"/><path d="M-5,-14 L5,14 M5,-14 L-5,14" fill="none"/></g>
<g transform="translate(1392.4,1224.6) rotate(0) scale(1.0)" fill="#fffaf0" stroke="#c46412" stroke-width="2.2" stroke-linejoin="miter"><rect x="-23.9" y="-7.8" width="8" height="15.6"/><rect x="15.9" y="-7.8" width="8" height="15.6"/><rect x="-15.9" y="-5" width="6" height="10"/><rect x="9.9" y="-5" width="6" height="10"/><path d="M-6.4,-15.4 L6.4,-15.4 L3.8,-10.6 L-3.8,-10.6 Z"/><path d="M-6.4,15.4 L6.4,15.4 L3.8,10.6 L-3.8,10.6 Z"/><ellipse cx="0" cy="0" rx="10.2" ry="11.2"/><path d="M-5,-14 L5,14 M5,-14 L-5,14" fill="none"/></g>
<g transform="translate(1392.4,1408.2) rotate(0) scale(1.0)" fill="#fffaf0" stroke="#c46412" stroke-width="2.2" stroke-linejoin="miter"><rect x="-23.9" y="-7.8" width="8" height="15.6"/><rect x="15.9" y="-7.8" width="8" height="15.6"/><rect x="-15.9" y="-5" width="6" height="10"/><rect x="9.9" y="-5" width="6" height="10"/><path d="M-6.4,-15.4 L6.4,-15.4 L3.8,-10.6 L-3.8,-10.6 Z"/><path d="M-6.4,15.4 L6.4,15.4 L3.8,10.6 L-3.8,10.6 Z"/><ellipse cx="0" cy="0" rx="10.2" ry="11.2"/><path d="M-5,-14 L5,14 M5,-14 L-5,14" fill="none"/></g>
<g transform="translate(1851.5,898.7) rotate(0) scale(1.0)" fill="#fffaf0" stroke="#c46412" stroke-width="2.2" stroke-linejoin="miter"><rect x="-23.9" y="-7.8" width="8" height="15.6"/><rect x="15.9" y="-7.8" width="8" height="15.6"/><rect x="-15.9" y="-5" width="6" height="10"/><rect x="9.9" y="-5" width="6" height="10"/><path d="M-6.4,-15.4 L6.4,-15.4 L3.8,-10.6 L-3.8,-10.6 Z"/><path d="M-6.4,15.4 L6.4,15.4 L3.8,10.6 L-3.8,10.6 Z"/><ellipse cx="0" cy="0" rx="10.2" ry="11.2"/><path d="M-5,-14 L5,14 M5,-14 L-5,14" fill="none"/></g>
<g transform="translate(1851.5,1082.7) rotate(0) scale(1.0)" fill="#fffaf0" stroke="#c46412" stroke-width="2.2" stroke-linejoin="miter"><rect x="-23.9" y="-7.8" width="8" height="15.6"/><rect x="15.9" y="-7.8" width="8" height="15.6"/><rect x="-15.9" y="-5" width="6" height="10"/><rect x="9.9" y="-5" width="6" height="10"/><path d="M-6.4,-15.4 L6.4,-15.4 L3.8,-10.6 L-3.8,-10.6 Z"/><path d="M-6.4,15.4 L6.4,15.4 L3.8,10.6 L-3.8,10.6 Z"/><ellipse cx="0" cy="0" rx="10.2" ry="11.2"/><path d="M-5,-14 L5,14 M5,-14 L-5,14" fill="none"/></g>
<g transform="translate(1851.5,1248.6) rotate(0) scale(1.0)" fill="#fffaf0" stroke="#c46412" stroke-width="2.2" stroke-linejoin="miter"><rect x="-23.9" y="-7.8" width="8" height="15.6"/><rect x="15.9" y="-7.8" width="8" height="15.6"/><rect x="-15.9" y="-5" width="6" height="10"/><rect x="9.9" y="-5" width="6" height="10"/><path d="M-6.4,-15.4 L6.4,-15.4 L3.8,-10.6 L-3.8,-10.6 Z"/><path d="M-6.4,15.4 L6.4,15.4 L3.8,10.6 L-3.8,10.6 Z"/><ellipse cx="0" cy="0" rx="10.2" ry="11.2"/><path d="M-5,-14 L5,14 M5,-14 L-5,14" fill="none"/></g>
<g transform="translate(1851.5,1402.6) rotate(0) scale(1.0)" fill="#fffaf0" stroke="#c46412" stroke-width="2.2" stroke-linejoin="miter"><rect x="-23.9" y="-7.8" width="8" height="15.6"/><rect x="15.9" y="-7.8" width="8" height="15.6"/><rect x="-15.9" y="-5" width="6" height="10"/><rect x="9.9" y="-5" width="6" height="10"/><path d="M-6.4,-15.4 L6.4,-15.4 L3.8,-10.6 L-3.8,-10.6 Z"/><path d="M-6.4,15.4 L6.4,15.4 L3.8,10.6 L-3.8,10.6 Z"/><ellipse cx="0" cy="0" rx="10.2" ry="11.2"/><path d="M-5,-14 L5,14 M5,-14 L-5,14" fill="none"/></g>
<g transform="translate(875.6,1305.3) rotate(0) scale(1.0)" fill="#fffaf0" stroke="#c46412" stroke-width="2.2" stroke-linejoin="miter"><rect x="-23.9" y="-7.8" width="8" height="15.6"/><rect x="15.9" y="-7.8" width="8" height="15.6"/><rect x="-15.9" y="-5" width="6" height="10"/><rect x="9.9" y="-5" width="6" height="10"/><path d="M-6.4,-15.4 L6.4,-15.4 L3.8,-10.6 L-3.8,-10.6 Z"/><path d="M-6.4,15.4 L6.4,15.4 L3.8,10.6 L-3.8,10.6 Z"/><ellipse cx="0" cy="0" rx="10.2" ry="11.2"/><path d="M-5,-14 L5,14 M5,-14 L-5,14" fill="none"/></g>
<g transform="translate(1176.0,1305.0) rotate(0) scale(1.0)" fill="#fffaf0" stroke="#c46412" stroke-width="2.2" stroke-linejoin="miter"><rect x="-23.9" y="-7.8" width="8" height="15.6"/><rect x="15.9" y="-7.8" width="8" height="15.6"/><rect x="-15.9" y="-5" width="6" height="10"/><rect x="9.9" y="-5" width="6" height="10"/><path d="M-6.4,-15.4 L6.4,-15.4 L3.8,-10.6 L-3.8,-10.6 Z"/><path d="M-6.4,15.4 L6.4,15.4 L3.8,10.6 L-3.8,10.6 Z"/><ellipse cx="0" cy="0" rx="10.2" ry="11.2"/><path d="M-5,-14 L5,14 M5,-14 L-5,14" fill="none"/></g>
<g transform="translate(1293.7,1305.5) rotate(0) scale(1.0)" fill="#fffaf0" stroke="#c46412" stroke-width="2.2" stroke-linejoin="miter"><rect x="-23.9" y="-7.8" width="8" height="15.6"/><rect x="15.9" y="-7.8" width="8" height="15.6"/><rect x="-15.9" y="-5" width="6" height="10"/><rect x="9.9" y="-5" width="6" height="10"/><path d="M-6.4,-15.4 L6.4,-15.4 L3.8,-10.6 L-3.8,-10.6 Z"/><path d="M-6.4,15.4 L6.4,15.4 L3.8,10.6 L-3.8,10.6 Z"/><ellipse cx="0" cy="0" rx="10.2" ry="11.2"/><path d="M-5,-14 L5,14 M5,-14 L-5,14" fill="none"/></g>
<g transform="translate(1247.0,1546.0) rotate(0) scale(1.0)" fill="#fffaf0" stroke="#c46412" stroke-width="2.2" stroke-linejoin="miter"><rect x="-23.9" y="-7.8" width="8" height="15.6"/><rect x="15.9" y="-7.8" width="8" height="15.6"/><rect x="-15.9" y="-5" width="6" height="10"/><rect x="9.9" y="-5" width="6" height="10"/><path d="M-6.4,-15.4 L6.4,-15.4 L3.8,-10.6 L-3.8,-10.6 Z"/><path d="M-6.4,15.4 L6.4,15.4 L3.8,10.6 L-3.8,10.6 Z"/><ellipse cx="0" cy="0" rx="10.2" ry="11.2"/><path d="M-5,-14 L5,14 M5,-14 L-5,14" fill="none"/></g>
<g transform="translate(801.6,1866.8) rotate(0) scale(1.0)" fill="#fffaf0" stroke="#c46412" stroke-width="2.2" stroke-linejoin="miter"><rect x="-23.9" y="-7.8" width="8" height="15.6"/><rect x="15.9" y="-7.8" width="8" height="15.6"/><rect x="-15.9" y="-5" width="6" height="10"/><rect x="9.9" y="-5" width="6" height="10"/><path d="M-6.4,-15.4 L6.4,-15.4 L3.8,-10.6 L-3.8,-10.6 Z"/><path d="M-6.4,15.4 L6.4,15.4 L3.8,10.6 L-3.8,10.6 Z"/><ellipse cx="0" cy="0" rx="10.2" ry="11.2"/><path d="M-5,-14 L5,14 M5,-14 L-5,14" fill="none"/></g>
<g transform="translate(954.0,1867.1) rotate(0) scale(1.0)" fill="#fffaf0" stroke="#c46412" stroke-width="2.2" stroke-linejoin="miter"><rect x="-23.9" y="-7.8" width="8" height="15.6"/><rect x="15.9" y="-7.8" width="8" height="15.6"/><rect x="-15.9" y="-5" width="6" height="10"/><rect x="9.9" y="-5" width="6" height="10"/><path d="M-6.4,-15.4 L6.4,-15.4 L3.8,-10.6 L-3.8,-10.6 Z"/><path d="M-6.4,15.4 L6.4,15.4 L3.8,10.6 L-3.8,10.6 Z"/><ellipse cx="0" cy="0" rx="10.2" ry="11.2"/><path d="M-5,-14 L5,14 M5,-14 L-5,14" fill="none"/></g>
<g transform="translate(1223.6,1871.8) rotate(0) scale(1.0)" fill="#fffaf0" stroke="#c46412" stroke-width="2.2" stroke-linejoin="miter"><rect x="-23.9" y="-7.8" width="8" height="15.6"/><rect x="15.9" y="-7.8" width="8" height="15.6"/><rect x="-15.9" y="-5" width="6" height="10"/><rect x="9.9" y="-5" width="6" height="10"/><path d="M-6.4,-15.4 L6.4,-15.4 L3.8,-10.6 L-3.8,-10.6 Z"/><path d="M-6.4,15.4 L6.4,15.4 L3.8,10.6 L-3.8,10.6 Z"/><ellipse cx="0" cy="0" rx="10.2" ry="11.2"/><path d="M-5,-14 L5,14 M5,-14 L-5,14" fill="none"/></g>
<g transform="translate(955.5,1982.2) rotate(0) scale(1.0)" fill="#fffaf0" stroke="#c46412" stroke-width="2.2" stroke-linejoin="miter"><rect x="-23.9" y="-7.8" width="8" height="15.6"/><rect x="15.9" y="-7.8" width="8" height="15.6"/><rect x="-15.9" y="-5" width="6" height="10"/><rect x="9.9" y="-5" width="6" height="10"/><path d="M-6.4,-15.4 L6.4,-15.4 L3.8,-10.6 L-3.8,-10.6 Z"/><path d="M-6.4,15.4 L6.4,15.4 L3.8,10.6 L-3.8,10.6 Z"/><ellipse cx="0" cy="0" rx="10.2" ry="11.2"/><path d="M-5,-14 L5,14 M5,-14 L-5,14" fill="none"/></g>
<g transform="translate(1151.7,1987.0) rotate(0) scale(1.0)" fill="#fffaf0" stroke="#c46412" stroke-width="2.2" stroke-linejoin="miter"><rect x="-23.9" y="-7.8" width="8" height="15.6"/><rect x="15.9" y="-7.8" width="8" height="15.6"/><rect x="-15.9" y="-5" width="6" height="10"/><rect x="9.9" y="-5" width="6" height="10"/><path d="M-6.4,-15.4 L6.4,-15.4 L3.8,-10.6 L-3.8,-10.6 Z"/><path d="M-6.4,15.4 L6.4,15.4 L3.8,10.6 L-3.8,10.6 Z"/><ellipse cx="0" cy="0" rx="10.2" ry="11.2"/><path d="M-5,-14 L5,14 M5,-14 L-5,14" fill="none"/></g>
<g transform="translate(2537.0,1149.7) rotate(0) scale(1.0)" fill="none" stroke="#c46412" stroke-width="2.2" stroke-linejoin="miter"><rect x="-23.9" y="-7.8" width="8" height="15.6"/><rect x="15.9" y="-7.8" width="8" height="15.6"/><rect x="-15.9" y="-5" width="6" height="10"/><rect x="9.9" y="-5" width="6" height="10"/><path d="M-6.4,-15.4 L6.4,-15.4 L3.8,-10.6 L-3.8,-10.6 Z"/><path d="M-6.4,15.4 L6.4,15.4 L3.8,10.6 L-3.8,10.6 Z"/><ellipse cx="0" cy="0" rx="10.2" ry="11.2"/><path d="M-5,-14 L5,14 M5,-14 L-5,14" fill="none"/></g>
<g transform="translate(731.0,1443.8) rotate(90) scale(1.0)" fill="#fffaf0" stroke="#c46412" stroke-width="2.2" stroke-linejoin="miter"><rect x="-23.9" y="-7.8" width="8" height="15.6"/><rect x="15.9" y="-7.8" width="8" height="15.6"/><rect x="-15.9" y="-5" width="6" height="10"/><rect x="9.9" y="-5" width="6" height="10"/><path d="M-6.4,-15.4 L6.4,-15.4 L3.8,-10.6 L-3.8,-10.6 Z"/><path d="M-6.4,15.4 L6.4,15.4 L3.8,10.6 L-3.8,10.6 Z"/><ellipse cx="0" cy="0" rx="10.2" ry="11.2"/><path d="M-5,-14 L5,14 M5,-14 L-5,14" fill="none"/></g>
<g transform="translate(2763.5,1899.6) rotate(90) scale(1.0)" fill="#fffaf0" stroke="#c46412" stroke-width="2.2" stroke-linejoin="miter"><rect x="-23.9" y="-7.8" width="8" height="15.6"/><rect x="15.9" y="-7.8" width="8" height="15.6"/><rect x="-15.9" y="-5" width="6" height="10"/><rect x="9.9" y="-5" width="6" height="10"/><path d="M-6.4,-15.4 L6.4,-15.4 L3.8,-10.6 L-3.8,-10.6 Z"/><path d="M-6.4,15.4 L6.4,15.4 L3.8,10.6 L-3.8,10.6 Z"/><ellipse cx="0" cy="0" rx="10.2" ry="11.2"/><path d="M-5,-14 L5,14 M5,-14 L-5,14" fill="none"/></g>
<g transform="translate(2395.8,1499.6) rotate(90) scale(1.0)" fill="none" stroke="#c46412" stroke-width="2.2" stroke-linejoin="miter"><rect x="-23.9" y="-7.8" width="8" height="15.6"/><rect x="15.9" y="-7.8" width="8" height="15.6"/><rect x="-15.9" y="-5" width="6" height="10"/><rect x="9.9" y="-5" width="6" height="10"/><path d="M-6.4,-15.4 L6.4,-15.4 L3.8,-10.6 L-3.8,-10.6 Z"/><path d="M-6.4,15.4 L6.4,15.4 L3.8,10.6 L-3.8,10.6 Z"/><ellipse cx="0" cy="0" rx="10.2" ry="11.2"/><path d="M-5,-14 L5,14 M5,-14 L-5,14" fill="none"/></g>
<g transform="translate(2395.8,1606.6) rotate(90) scale(1.0)" fill="none" stroke="#c46412" stroke-width="2.2" stroke-linejoin="miter"><rect x="-23.9" y="-7.8" width="8" height="15.6"/><rect x="15.9" y="-7.8" width="8" height="15.6"/><rect x="-15.9" y="-5" width="6" height="10"/><rect x="9.9" y="-5" width="6" height="10"/><path d="M-6.4,-15.4 L6.4,-15.4 L3.8,-10.6 L-3.8,-10.6 Z"/><path d="M-6.4,15.4 L6.4,15.4 L3.8,10.6 L-3.8,10.6 Z"/><ellipse cx="0" cy="0" rx="10.2" ry="11.2"/><path d="M-5,-14 L5,14 M5,-14 L-5,14" fill="none"/></g>
<g transform="translate(2395.8,1699.7) rotate(90) scale(1.0)" fill="none" stroke="#c46412" stroke-width="2.2" stroke-linejoin="miter"><rect x="-23.9" y="-7.8" width="8" height="15.6"/><rect x="15.9" y="-7.8" width="8" height="15.6"/><rect x="-15.9" y="-5" width="6" height="10"/><rect x="9.9" y="-5" width="6" height="10"/><path d="M-6.4,-15.4 L6.4,-15.4 L3.8,-10.6 L-3.8,-10.6 Z"/><path d="M-6.4,15.4 L6.4,15.4 L3.8,10.6 L-3.8,10.6 Z"/><ellipse cx="0" cy="0" rx="10.2" ry="11.2"/><path d="M-5,-14 L5,14 M5,-14 L-5,14" fill="none"/></g>
<rect x="2270.8" y="1108.5" width="13.8" height="13.0" fill="#fff" stroke="#c46412" stroke-width="2.0"/>
<g transform="translate(2277.6,1095.0) rotate(90) scale(1.0)" fill="none" stroke="#c46412" stroke-width="2.2" stroke-linejoin="miter"><rect x="-23.9" y="-7.8" width="8" height="15.6"/><rect x="15.9" y="-7.8" width="8" height="15.6"/><rect x="-15.9" y="-5" width="6" height="10"/><rect x="9.9" y="-5" width="6" height="10"/><path d="M-6.4,-15.4 L6.4,-15.4 L3.8,-10.6 L-3.8,-10.6 Z"/><path d="M-6.4,15.4 L6.4,15.4 L3.8,10.6 L-3.8,10.6 Z"/><ellipse cx="0" cy="0" rx="10.2" ry="11.2"/><path d="M-5,-14 L5,14 M5,-14 L-5,14" fill="none"/></g>
<g transform="translate(1048.5,1224.2) rotate(0)" stroke="#000" stroke-width="2.4" fill="none" stroke-linejoin="miter"><path d="M-36,-12 L-24.5,-12 L-24.5,-8 L22.5,-8 L22.5,-12 L36,-12 L36,12 L22.5,12 L22.5,8 L-24.5,8 L-24.5,12 L-36,12 Z"/><rect x="-14" y="-7.8" width="23.5" height="15.6" fill="#000" stroke="none"/><path d="M-6,-7 v4 M-2,-7 v4 M2,-7 v4 M-6,7 v-4 M-2,7 v-4 M2,7 v-4" stroke="#999" stroke-width="0.8"/><rect x="-27" y="-13.2" width="50" height="6.4" fill="#000" stroke="none"/><path d="M-23.5,-10.2 L20,-10.2" stroke="#fff" stroke-width="2.2"/><path d="M16,-15.5 L23,-11 L17,-8.5Z" fill="#000" stroke="none"/></g>
<g transform="translate(1115.0,1305.0) rotate(0)" stroke="#000" stroke-width="2.4" fill="none" stroke-linejoin="miter"><path d="M-36,-12 L-24.5,-12 L-24.5,-8 L22.5,-8 L22.5,-12 L36,-12 L36,12 L22.5,12 L22.5,8 L-24.5,8 L-24.5,12 L-36,12 Z"/><rect x="-14" y="-7.8" width="23.5" height="15.6" fill="#000" stroke="none"/><path d="M-6,-7 v4 M-2,-7 v4 M2,-7 v4 M-6,7 v-4 M-2,7 v-4 M2,7 v-4" stroke="#999" stroke-width="0.8"/></g>
<path d="M1279.5,1367.6 L1300.0,1312.0" fill="none" stroke="#000" stroke-width="1.8" />
<path d="M1205.5,1499.0 L1222.5,1556.0" fill="none" stroke="#000" stroke-width="1.8" />
<g stroke="#12a828" stroke-width="2.2" fill="#fff"><rect x="993.6" y="1864" width="55.999999999999886" height="10.0"/><rect x="1050.6" y="1865.4" width="55.8" height="10.6"/><rect x="976" y="1857" width="18.6" height="25.0"/><rect x="1105.4" y="1858.6" width="18.6" height="24.6"/><circle cx="1050.6" cy="1869.8" r="33.6" fill="url(#pumpO)" stroke-width="2.6"/><circle cx="1050.6" cy="1869.8" r="23" fill="url(#pumpI)" stroke-width="2"/></g>
<g stroke="#12a828" stroke-width="2.2" fill="#fff"><rect x="995" y="1979.5" width="55" height="10.0"/><rect x="1051" y="1981" width="56.6" height="10.0"/><rect x="976.8" y="1972.2" width="19.2" height="24.6"/><rect x="1106.6" y="1973.4" width="18.8" height="24.6"/><circle cx="1051" cy="1984.8" r="33.6" fill="url(#pumpO)" stroke-width="2.6"/><circle cx="1051" cy="1984.8" r="23" fill="url(#pumpI)" stroke-width="2"/></g>
<g stroke="#ff0000" stroke-width="2" fill="none" stroke-linejoin="miter"><path d="M1196.5,1164 L1202.5,1164 L1202.5,1159 L1207.5,1159 L1207.5,1164 L1221.0,1164 L1221.0,1158 L1228.0,1158 L1228.0,1164 L1245.5,1164 L1246.5,1158 L1251.0,1158 L1252.0,1164 L1252.5,1170 L1228.5,1170 L1228.5,1177 L1220.5,1177 L1220.5,1170 L1196.5,1170Z"/><path d="M1190.0,1146.5 L1205.0,1146.5 L1205.0,1159.5 L1197.5,1159.5 L1195.5,1153.5 L1190.0,1153.5Z"/><rect x="1217.0" y="1144.5" width="15" height="9.5" rx="1.5"/><path d="M1219.5,1144.5 L1221.0,1141.5 L1226.5,1141 L1228.5,1139 L1229.5,1144.5Z" fill="#ff0000"/><path d="M1219.5,1154 L1229.5,1154 L1227.5,1158 L1221.5,1158Z"/><circle cx="1248.8" cy="1148.7" r="8.3" stroke-width="3.2"/><path d="M1245.5,1152 L1252.0,1145.5" stroke-width="2.2"/></g>
<rect x="1218.6" y="1176.6" width="11.8" height="9.6" fill="#fff" stroke="#ff0000" stroke-width="2.2"/>
<path d="M2094.2,1143.2 L2106.2,1143.2 L2106.2,1122.2 L2121.9,1122.2 L2121.9,1143.2 L2133.4,1143.2 L2133.4,1157.4 L2094.2,1157.4Z" stroke="#000" stroke-width="2.2" fill="none" stroke-linejoin="miter"/>
<path d="M2134.6,1143.2 L2172.2,1143.2 L2172.2,1157.4 L2161.7,1157.4 L2161.7,1176.5 L2146.2,1176.5 L2146.2,1157.4 L2134.6,1157.4Z" stroke="#000" stroke-width="2.2" fill="none" stroke-linejoin="miter"/>
<path d="M2173.4,1143.2 L2185.9,1143.2 L2185.9,1122.2 L2200.9,1122.2 L2200.9,1143.2 L2212.4,1143.2 L2212.4,1157.4 L2173.4,1157.4Z" stroke="#000" stroke-width="2.2" fill="none" stroke-linejoin="miter"/>
<path d="M2213.6,1143.2 L2252.2,1143.2 L2252.2,1157.4 L2241.3,1157.4 L2241.3,1176.5 L2225.7,1176.5 L2225.7,1157.4 L2213.6,1157.4Z" stroke="#000" stroke-width="2.2" fill="none" stroke-linejoin="miter"/>
<rect x="2252.4" y="1145.5" width="6.0" height="9.7" fill="#fff" stroke="#000" stroke-width="1.6"/>
<path d="M2259.2,1143.2 L2271.2,1143.2 L2271.2,1122.2 L2285.8,1122.2 L2285.8,1143.2 L2296.8,1143.2 L2296.8,1157.4 L2259.2,1157.4Z" stroke="#000" stroke-width="2.2" fill="none" stroke-linejoin="miter"/>
<rect x="2107" y="1146.4" width="14" height="3.6" rx="1.8" fill="#000"/>
<rect x="2142" y="1145.8" width="14" height="3.6" rx="1.8" fill="#000"/>
<rect x="2186" y="1147.8" width="14" height="3.6" rx="1.8" fill="#000"/>
<rect x="2224" y="1145.8" width="14" height="3.6" rx="1.8" fill="#000"/>
<rect x="2268" y="1147.8" width="14" height="3.6" rx="1.8" fill="#000"/>
<rect x="2060" y="1146.3" width="14" height="3.6" rx="1.8" fill="#000"/>
<path d="M2056.0,1156.5 L2066.0,1156.5" fill="none" stroke="#999" stroke-width="1" />
<path d="M2080.0,1156.5 L2093.0,1156.5" fill="none" stroke="#999" stroke-width="1" />
<rect x="2021.5" y="1142.7" width="17.0" height="14.8" fill="#fff" stroke="#000" stroke-width="2.2"/>
<rect x="2014" y="1145.5" width="7.5" height="9.5" fill="#fff" stroke="#000" stroke-width="1.6"/>
<rect x="2026" y="1144.5" width="4.2" height="11.5" fill="#000"/>
<rect x="2106.2" y="1101.0" width="16.0" height="20.5" fill="#000" stroke="#000" stroke-width="1.4"/><rect x="2109.0" y="1109.5" width="10.4" height="4.6" fill="#fff"/><rect x="2109.0" y="1116.6" width="10.4" height="5" fill="#fff"/><rect x="2109.0" y="1103" width="3" height="3.4" fill="#fff"/>
<rect x="2185.4" y="1101.0" width="16.0" height="20.5" fill="#000" stroke="#000" stroke-width="1.4"/><rect x="2188.2000000000003" y="1109.5" width="10.4" height="4.6" fill="#fff"/><rect x="2188.2000000000003" y="1116.6" width="10.4" height="5" fill="#fff"/><rect x="2188.2000000000003" y="1103" width="3" height="3.4" fill="#fff"/>
<rect x="2108.8" y="1091.2" width="10.8" height="9.2" fill="#fff" stroke="#000" stroke-width="2.0"/>
<path d="M2114.8,1086.0 L2114.8,1093.0" fill="none" stroke="#ff0000" stroke-width="3.2" />
<rect x="2189.2" y="1084.0" width="8.4" height="16.6" fill="#fff" stroke="#000" stroke-width="2.0"/>
<g stroke="#000" stroke-width="2" fill="#fff" stroke-linejoin="miter"><path d="M2164.6,1078.2 L2170.6,1078.2 L2170.6,1073.2 L2175.6,1073.2 L2175.6,1078.2 L2189.1,1078.2 L2189.1,1072.2 L2196.1,1072.2 L2196.1,1078.2 L2213.6,1078.2 L2214.6,1072.2 L2219.1,1072.2 L2220.1,1078.2 L2220.6,1084.2 L2196.6,1084.2 L2196.6,1091.2 L2188.6,1091.2 L2188.6,1084.2 L2164.6,1084.2Z"/><path d="M2158.1,1060.7 L2173.1,1060.7 L2173.1,1073.7 L2165.6,1073.7 L2163.6,1067.7 L2158.1,1067.7Z"/><rect x="2185.1" y="1058.7" width="15" height="9.5" rx="1.5"/><path d="M2187.6,1058.7 L2189.1,1055.7 L2194.6,1055.2 L2196.6,1053.2 L2197.6,1058.7Z" fill="#000"/><path d="M2187.6,1068.2 L2197.6,1068.2 L2195.6,1072.2 L2189.6,1072.2Z"/><circle cx="2216.9" cy="1062.9" r="8.3" stroke-width="3.2"/><path d="M2213.6,1066.2 L2220.1,1059.7" stroke-width="2.2"/></g>
<rect x="2068.3" y="1176.0" width="10.4" height="10.6" fill="none" stroke="#000" stroke-width="2.2"/><rect x="2066.1" y="1187.7" width="14.8" height="15.9" fill="#fff" stroke="#000" stroke-width="2.2"/><rect x="2068.0" y="1195.5" width="11" height="3.6" rx="1.5" fill="#000"/><path d="M2068.5,1191.0 L2078.5,1191.0" fill="none" stroke="#000" stroke-width="1.2" /><rect x="2068.5" y="1203.6" width="10.0" height="3.4" fill="#fff" stroke="#000" stroke-width="1.6"/><g transform="translate(2073.5,1231.0) rotate(90) scale(1.0)" fill="#fff" stroke="#000" stroke-width="2.0" stroke-linejoin="miter"><rect x="-23.9" y="-7.8" width="8" height="15.6"/><rect x="15.9" y="-7.8" width="8" height="15.6"/><rect x="-15.9" y="-5" width="6" height="10"/><rect x="9.9" y="-5" width="6" height="10"/><path d="M-6.4,-15.4 L6.4,-15.4 L3.8,-10.6 L-3.8,-10.6 Z"/><path d="M-6.4,15.4 L6.4,15.4 L3.8,10.6 L-3.8,10.6 Z"/><ellipse cx="0" cy="0" rx="10.2" ry="11.2"/><path d="M-5,-14 L5,14 M5,-14 L-5,14" fill="none"/></g><path d="M2061.5,1249.8 L2085.5,1249.8 L2085.5,1266.7 L2078.5,1266.7 L2078.5,1290 L2068.5,1290 L2068.5,1266.7 L2061.5,1266.7Z" fill="#fff" stroke="#000" stroke-width="2.2"/><rect x="2066.9" y="1249.8" width="13.2" height="5.7" fill="#fff" stroke="#000" stroke-width="2.0"/><path d="M2068.5,1352 L2078.5,1352 L2078.5,1378 L2085.5,1378 L2085.5,1394.6 L2061.5,1394.6 L2061.5,1378 L2068.5,1378Z" fill="#fff" stroke="#000" stroke-width="2.2"/><circle cx="2073.5" cy="1322" r="34.8" fill="url(#pumpO)" stroke="#000" stroke-width="1.2"/><circle cx="2073.5" cy="1322" r="21.8" fill="url(#pumpI)" stroke="#000" stroke-width="2.2"/><g transform="translate(2073.5,1435.5) rotate(90)" stroke="#000" stroke-width="2.4" fill="#fff" stroke-linejoin="miter"><path d="M-36,-12 L-24.5,-12 L-24.5,-8 L22.5,-8 L22.5,-12 L36,-12 L36,12 L22.5,12 L22.5,8 L-24.5,8 L-24.5,12 L-36,12 Z"/><rect x="-14" y="-7.8" width="23.5" height="15.6" fill="#000" stroke="none"/><path d="M-6,-7 v4 M-2,-7 v4 M2,-7 v4 M-6,7 v-4 M-2,7 v-4 M2,7 v-4" stroke="#999" stroke-width="0.8"/></g><g transform="translate(2073.5,1499.2) rotate(90) scale(1.0)" fill="#fff" stroke="#000" stroke-width="2.0" stroke-linejoin="miter"><rect x="-23.9" y="-7.8" width="8" height="15.6"/><rect x="15.9" y="-7.8" width="8" height="15.6"/><rect x="-15.9" y="-5" width="6" height="10"/><rect x="9.9" y="-5" width="6" height="10"/><path d="M-6.4,-15.4 L6.4,-15.4 L3.8,-10.6 L-3.8,-10.6 Z"/><path d="M-6.4,15.4 L6.4,15.4 L3.8,10.6 L-3.8,10.6 Z"/><ellipse cx="0" cy="0" rx="10.2" ry="11.2"/><path d="M-5,-14 L5,14 M5,-14 L-5,14" fill="none"/></g>
<rect x="2148.8" y="1176.5" width="8.4" height="10.1" fill="none" stroke="#000" stroke-width="2.2"/><rect x="2145.6" y="1187.7" width="14.8" height="15.9" fill="#fff" stroke="#000" stroke-width="2.2"/><rect x="2147.5" y="1195.5" width="11" height="3.6" rx="1.5" fill="#000"/><path d="M2148.0,1191.0 L2158.0,1191.0" fill="none" stroke="#000" stroke-width="1.2" /><rect x="2148.0" y="1203.6" width="10.0" height="3.4" fill="#fff" stroke="#000" stroke-width="1.6"/><g transform="translate(2153.0,1231.0) rotate(90) scale(1.0)" fill="#fff" stroke="#000" stroke-width="2.0" stroke-linejoin="miter"><rect x="-23.9" y="-7.8" width="8" height="15.6"/><rect x="15.9" y="-7.8" width="8" height="15.6"/><rect x="-15.9" y="-5" width="6" height="10"/><rect x="9.9" y="-5" width="6" height="10"/><path d="M-6.4,-15.4 L6.4,-15.4 L3.8,-10.6 L-3.8,-10.6 Z"/><path d="M-6.4,15.4 L6.4,15.4 L3.8,10.6 L-3.8,10.6 Z"/><ellipse cx="0" cy="0" rx="10.2" ry="11.2"/><path d="M-5,-14 L5,14 M5,-14 L-5,14" fill="none"/></g><path d="M2141.0,1249.8 L2165.0,1249.8 L2165.0,1266.7 L2158.0,1266.7 L2158.0,1290 L2148.0,1290 L2148.0,1266.7 L2141.0,1266.7Z" fill="#fff" stroke="#000" stroke-width="2.2"/><rect x="2146.4" y="1249.8" width="13.2" height="5.7" fill="#fff" stroke="#000" stroke-width="2.0"/><path d="M2148.0,1352 L2158.0,1352 L2158.0,1378 L2165.0,1378 L2165.0,1394.6 L2141.0,1394.6 L2141.0,1378 L2148.0,1378Z" fill="#fff" stroke="#000" stroke-width="2.2"/><circle cx="2153" cy="1322" r="34.8" fill="url(#pumpO)" stroke="#000" stroke-width="1.2"/><circle cx="2153" cy="1322" r="21.8" fill="url(#pumpI)" stroke="#000" stroke-width="2.2"/><g transform="translate(2153.0,1435.5) rotate(90)" stroke="#000" stroke-width="2.4" fill="#fff" stroke-linejoin="miter"><path d="M-36,-12 L-24.5,-12 L-24.5,-8 L22.5,-8 L22.5,-12 L36,-12 L36,12 L22.5,12 L22.5,8 L-24.5,8 L-24.5,12 L-36,12 Z"/><rect x="-14" y="-7.8" width="23.5" height="15.6" fill="#000" stroke="none"/><path d="M-6,-7 v4 M-2,-7 v4 M2,-7 v4 M-6,7 v-4 M-2,7 v-4 M2,7 v-4" stroke="#999" stroke-width="0.8"/></g><g transform="translate(2153.0,1499.2) rotate(90) scale(1.0)" fill="#fff" stroke="#000" stroke-width="2.0" stroke-linejoin="miter"><rect x="-23.9" y="-7.8" width="8" height="15.6"/><rect x="15.9" y="-7.8" width="8" height="15.6"/><rect x="-15.9" y="-5" width="6" height="10"/><rect x="9.9" y="-5" width="6" height="10"/><path d="M-6.4,-15.4 L6.4,-15.4 L3.8,-10.6 L-3.8,-10.6 Z"/><path d="M-6.4,15.4 L6.4,15.4 L3.8,10.6 L-3.8,10.6 Z"/><ellipse cx="0" cy="0" rx="10.2" ry="11.2"/><path d="M-5,-14 L5,14 M5,-14 L-5,14" fill="none"/></g>
<rect x="2228.3" y="1176.5" width="8.4" height="10.1" fill="none" stroke="#000" stroke-width="2.2"/><rect x="2225.1" y="1187.7" width="14.8" height="15.9" fill="#fff" stroke="#000" stroke-width="2.2"/><rect x="2227.0" y="1195.5" width="11" height="3.6" rx="1.5" fill="#000"/><path d="M2227.5,1191.0 L2237.5,1191.0" fill="none" stroke="#000" stroke-width="1.2" /><rect x="2227.5" y="1203.6" width="10.0" height="3.4" fill="#fff" stroke="#000" stroke-width="1.6"/><g transform="translate(2232.5,1231.0) rotate(90) scale(1.0)" fill="#fff" stroke="#000" stroke-width="2.0" stroke-linejoin="miter"><rect x="-23.9" y="-7.8" width="8" height="15.6"/><rect x="15.9" y="-7.8" width="8" height="15.6"/><rect x="-15.9" y="-5" width="6" height="10"/><rect x="9.9" y="-5" width="6" height="10"/><path d="M-6.4,-15.4 L6.4,-15.4 L3.8,-10.6 L-3.8,-10.6 Z"/><path d="M-6.4,15.4 L6.4,15.4 L3.8,10.6 L-3.8,10.6 Z"/><ellipse cx="0" cy="0" rx="10.2" ry="11.2"/><path d="M-5,-14 L5,14 M5,-14 L-5,14" fill="none"/></g><path d="M2220.5,1249.8 L2244.5,1249.8 L2244.5,1266.7 L2237.5,1266.7 L2237.5,1290 L2227.5,1290 L2227.5,1266.7 L2220.5,1266.7Z" fill="#fff" stroke="#000" stroke-width="2.2"/><rect x="2225.9" y="1249.8" width="13.2" height="5.7" fill="#fff" stroke="#000" stroke-width="2.0"/><path d="M2227.5,1352 L2237.5,1352 L2237.5,1378 L2244.5,1378 L2244.5,1394.6 L2220.5,1394.6 L2220.5,1378 L2227.5,1378Z" fill="#fff" stroke="#000" stroke-width="2.2"/><circle cx="2232.5" cy="1322" r="34.8" fill="url(#pumpO)" stroke="#000" stroke-width="1.2"/><circle cx="2232.5" cy="1322" r="21.8" fill="url(#pumpI)" stroke="#000" stroke-width="2.2"/><g transform="translate(2232.5,1435.5) rotate(90)" stroke="#000" stroke-width="2.4" fill="#fff" stroke-linejoin="miter"><path d="M-36,-12 L-24.5,-12 L-24.5,-8 L22.5,-8 L22.5,-12 L36,-12 L36,12 L22.5,12 L22.5,8 L-24.5,8 L-24.5,12 L-36,12 Z"/><rect x="-14" y="-7.8" width="23.5" height="15.6" fill="#000" stroke="none"/><path d="M-6,-7 v4 M-2,-7 v4 M2,-7 v4 M-6,7 v-4 M-2,7 v-4 M2,7 v-4" stroke="#999" stroke-width="0.8"/></g><g transform="translate(2232.5,1499.2) rotate(90) scale(1.0)" fill="#fff" stroke="#000" stroke-width="2.0" stroke-linejoin="miter"><rect x="-23.9" y="-7.8" width="8" height="15.6"/><rect x="15.9" y="-7.8" width="8" height="15.6"/><rect x="-15.9" y="-5" width="6" height="10"/><rect x="9.9" y="-5" width="6" height="10"/><path d="M-6.4,-15.4 L6.4,-15.4 L3.8,-10.6 L-3.8,-10.6 Z"/><path d="M-6.4,15.4 L6.4,15.4 L3.8,10.6 L-3.8,10.6 Z"/><ellipse cx="0" cy="0" rx="10.2" ry="11.2"/><path d="M-5,-14 L5,14 M5,-14 L-5,14" fill="none"/></g>
<path d="M3099.1000000000004,1156.5 L3123.5,1156.5 L3123.5,1173.5 L3116.3,1173.5 L3116.3,1196 L3106.3,1196 L3106.3,1173.5 L3099.1000000000004,1173.5Z" fill="#fff" stroke="#000" stroke-width="1.8"/>
<path d="M3106.3,1260 L3116.3,1260 L3116.3,1284 L3123.5,1284 L3123.5,1301 L3099.1000000000004,1301 L3099.1000000000004,1284 L3106.3,1284Z" fill="#fff" stroke="#000" stroke-width="1.8"/>
<circle cx="3111.3" cy="1228.1" r="34" fill="#fff" stroke="#000" stroke-width="1.8"/>
<circle cx="3111.3" cy="1228.1" r="22.4" fill="#fff" stroke="#000" stroke-width="1.8"/>
<g transform="translate(3111.3,1341.5) rotate(90)" stroke="#000" stroke-width="2.4" fill="#fff" stroke-linejoin="miter"><path d="M-36,-12 L-24.5,-12 L-24.5,-8 L22.5,-8 L22.5,-12 L36,-12 L36,12 L22.5,12 L22.5,8 L-24.5,8 L-24.5,12 L-36,12 Z"/><rect x="-14" y="-7.8" width="23.5" height="15.6" fill="#000" stroke="none"/><path d="M-6,-7 v4 M-2,-7 v4 M2,-7 v4 M-6,7 v-4 M-2,7 v-4 M2,7 v-4" stroke="#999" stroke-width="0.8"/></g>
<g transform="translate(3111.3,1405.0) rotate(90) scale(1.0)" fill="#fff" stroke="#000" stroke-width="1.8" stroke-linejoin="miter"><rect x="-23.9" y="-7.8" width="8" height="15.6"/><rect x="15.9" y="-7.8" width="8" height="15.6"/><rect x="-15.9" y="-5" width="6" height="10"/><rect x="9.9" y="-5" width="6" height="10"/><path d="M-6.4,-15.4 L6.4,-15.4 L3.8,-10.6 L-3.8,-10.6 Z"/><path d="M-6.4,15.4 L6.4,15.4 L3.8,10.6 L-3.8,10.6 Z"/><ellipse cx="0" cy="0" rx="10.2" ry="11.2"/><path d="M-5,-14 L5,14 M5,-14 L-5,14" fill="none"/></g>
<path d="M3111.0,1428.0 L3111.0,1432.0" fill="none" stroke="#ff0000" stroke-width="6" stroke-linecap="round"/>
<rect x="2568.0" y="1470.0" width="422.7" height="92.4" fill="#fff"/>
<rect x="2568.0" y="1564.8" width="441.3" height="83.4" fill="#fff"/>
<rect x="2568.0" y="1657.4" width="440.7" height="85.2" fill="#fff"/>
<g clip-path="url(#cp1)"><text transform="scale(0.93,1)" x="2795.2 2854.8 2915.0 2973.8 3028.7 3082.8 3141.4 3191.0" y="1542.4" font-family="Liberation Sans, Arial, sans-serif" font-size="85.5" font-weight="normal" text-anchor="middle" fill="#000" stroke="#fff" stroke-width="3.2">Подача−1</text></g>
<g clip-path="url(#cp2)"><text transform="scale(0.93,1)" x="2795.2 2854.8 2915.0 2973.8 3028.7 3082.8 3141.4 3201.6" y="1636.4" font-family="Liberation Sans, Arial, sans-serif" font-size="85.5" font-weight="normal" text-anchor="middle" fill="#000" stroke="#fff" stroke-width="3.2">Подача−2</text></g>
<g clip-path="url(#cp3)"><text transform="scale(0.93,1)" x="2795.2 2854.8 2915.0 2973.8 3028.7 3082.8 3141.4 3202.7" y="1723.6" font-family="Liberation Sans, Arial, sans-serif" font-size="85.5" font-weight="normal" text-anchor="middle" fill="#000" stroke="#fff" stroke-width="3.2">Подача−3</text></g>
<path d="M2560.0,1566.5 L2985.0,1566.5" fill="none" stroke="#ff0000" stroke-width="4.5" stroke-linecap="round"/>
<path d="M2560.0,1650.4 L2985.0,1650.4" fill="none" stroke="#ff0000" stroke-width="4.5" stroke-linecap="round"/>
<path d="M2560.0,1745.0 L2988.0,1745.0" fill="none" stroke="#ff0000" stroke-width="4.5" stroke-linecap="round"/>
<rect x="2839.6" y="1918.0" width="395.4" height="63.6" fill="#fff"/>
<text transform="scale(1.0,1)" x="2871.2 2925.8 2981.6 3037.9 3093.8 3147.5 3204.2" y="1970.4" font-family="Liberation Sans, Arial, sans-serif" font-size="61" font-weight="normal" text-anchor="middle" fill="#000" stroke="#fff" stroke-width="1.6">ОБРАТКА</text>
<path d="M2232.0,1909.6 L2244.0,1909.6" fill="none" stroke="#000" stroke-width="3" />
<path d="M2461.0,1909.6 L2472.0,1909.6" fill="none" stroke="#000" stroke-width="3" />
<text transform="scale(0.94,1)" x="3346.8 3446.3" y="1838.8" font-family="Liberation Sans, Arial, sans-serif" font-size="145" text-anchor="middle" fill="#ff1010" stroke="url(#gk2)" stroke-width="6.2">ГК</text>
<text transform="scale(0.8,1)" x="706.9 776.2" y="1721.4" font-family="Liberation Sans, Arial, sans-serif" font-size="85.5" font-weight="normal" text-anchor="middle" fill="#ff0000" stroke="#fff" stroke-width="2.0">ТТ</text>
<rect x="743.0" y="830.4" width="79.0" height="54.2" fill="#fff"/>
<text transform="scale(0.74,1)" x="1033.0 1082.4" y="878.6" font-family="Liberation Sans, Arial, sans-serif" font-size="59" font-weight="normal" text-anchor="middle" fill="#ff0000" stroke="#fff" stroke-width="1.2">СК</text>
<rect x="1944.6" y="532.8" width="138.5" height="64.4" fill="#fff"/>
<path d="M1930.0,593.7 L2155.0,593.7" fill="none" stroke="#ff0000" stroke-width="3.5" stroke-linecap="round"/>
<text transform="scale(0.86,1)" x="2290.3 2343.4 2392.8" y="591.0" font-family="Liberation Sans, Arial, sans-serif" font-size="71.5" font-weight="normal" text-anchor="middle" fill="#0000ff" stroke="#fff" stroke-width="1.2">ГВС</text>
<rect x="1087.4" y="1346.7" width="193.2" height="21.1" fill="#fff"/>
<text x="1089.6" y="1365.6" font-family="Liberation Sans, Arial, sans-serif" font-size="23.6" font-weight="normal" textLength="188.8" lengthAdjust="spacingAndGlyphs" fill="#000">Заливной кран</text>
<path d="M1089.6,1368.2 L1279.4,1368.2" fill="none" stroke="#000" stroke-width="1.8" />
<rect x="1012.3" y="1476.9" width="193.5" height="21.9" fill="#fff"/>
<text x="1014.8" y="1496.7" font-family="Liberation Sans, Arial, sans-serif" font-size="23.6" font-weight="normal" textLength="188.8" lengthAdjust="spacingAndGlyphs" fill="#000">Заливной кран</text>
<path d="M1014.8,1498.9 L1204.0,1498.9" fill="none" stroke="#000" stroke-width="1.8" />
<rect x="1024.0" y="1195.7" width="45.3" height="10.4" fill="#fff"/>
<text x="1025.0" y="1205.4" font-family="Liberation Sans, Arial, sans-serif" font-size="12.6" font-weight="bold" textLength="43.6" lengthAdjust="spacingAndGlyphs" fill="#000">Клапан</text>
</svg>
</body></html>
